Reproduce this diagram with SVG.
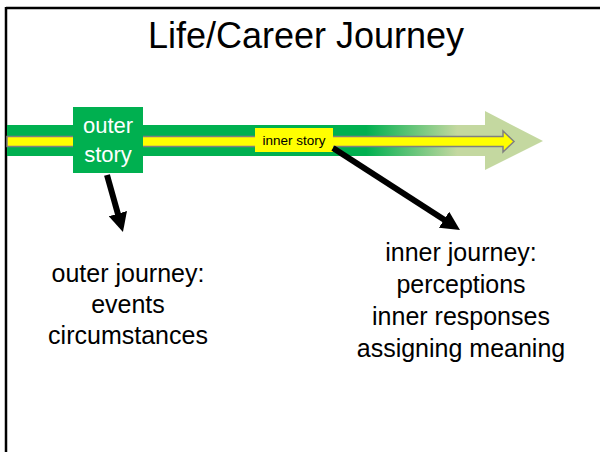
<svg xmlns="http://www.w3.org/2000/svg" width="600" height="452" viewBox="0 0 600 452">
  <style>
    .t { font-family: "Liberation Sans", Arial, sans-serif; fill: #000; text-anchor: middle; }
    .body { font-size: 25px; }
    .lbl { font-size: 22px; fill: #fff; }
    .conn { stroke: #000; stroke-width: 6; fill: none; marker-end: url(#head); }
  </style>
  <defs>
    <linearGradient id="band" gradientUnits="userSpaceOnUse" x1="7" y1="0" x2="543" y2="0">
      <stop offset="0" stop-color="#00B050"/>
      <stop offset="0.67" stop-color="#00B050"/>
      <stop offset="0.84" stop-color="#C4D8A0"/>
      <stop offset="1" stop-color="#C4D8A0"/>
    </linearGradient>
    <marker id="head" viewBox="0 0 10 10" markerUnits="userSpaceOnUse" markerWidth="19" markerHeight="19" refX="5" refY="5" orient="auto">
      <path d="M0,0 L10,5 L0,10 z" fill="#000"/>
    </marker>
  </defs>
  <rect width="600" height="452" fill="#fff"/>
  <g id="frame">
    <line x1="6" y1="8" x2="600" y2="8" stroke="#000" stroke-width="2.5"/>
    <line x1="6" y1="7" x2="6" y2="452" stroke="#000" stroke-width="2.5"/>
  </g>
  <g id="title">
    <text class="t" x="306" y="48" font-size="36">Life/Career Journey</text>
  </g>
  <g id="journey-band">
    <path d="M7,125 L485,125 L485,111 L543,141 L485,170 L485,156 L7,156 Z" fill="url(#band)"/>
    <path d="M7,136.5 L503,136.5 L503,131 L514,141.5 L503,152 L503,146.5 L7,146.5 Z" fill="#FFFF00" stroke="#808080" stroke-width="1.5"/>
  </g>
  <g id="outer-story">
    <rect x="73" y="107" width="70" height="66" fill="#00B050"/>
    <text class="t lbl" x="108" y="133">outer</text>
    <text class="t lbl" x="108" y="162">story</text>
  </g>
  <g id="inner-story">
    <rect x="255" y="128" width="78" height="24" fill="#FFFF00"/>
    <text class="t" x="294" y="145" font-size="13.5">inner story</text>
  </g>
  <g id="connectors">
    <line class="conn" x1="107" y1="175" x2="120.4" y2="222.8"/>
    <line class="conn" x1="333" y1="148" x2="452" y2="224.8"/>
  </g>
  <g id="outer-journey">
    <text class="t body" x="128" y="282">outer journey:</text>
    <text class="t body" x="128" y="313">events</text>
    <text class="t body" x="128" y="344">circumstances</text>
  </g>
  <g id="inner-journey">
    <text class="t body" x="461" y="261">inner journey:</text>
    <text class="t body" x="461" y="293">perceptions</text>
    <text class="t body" x="461" y="325">inner responses</text>
    <text class="t body" x="461" y="357">assigning meaning</text>
  </g>
</svg>
